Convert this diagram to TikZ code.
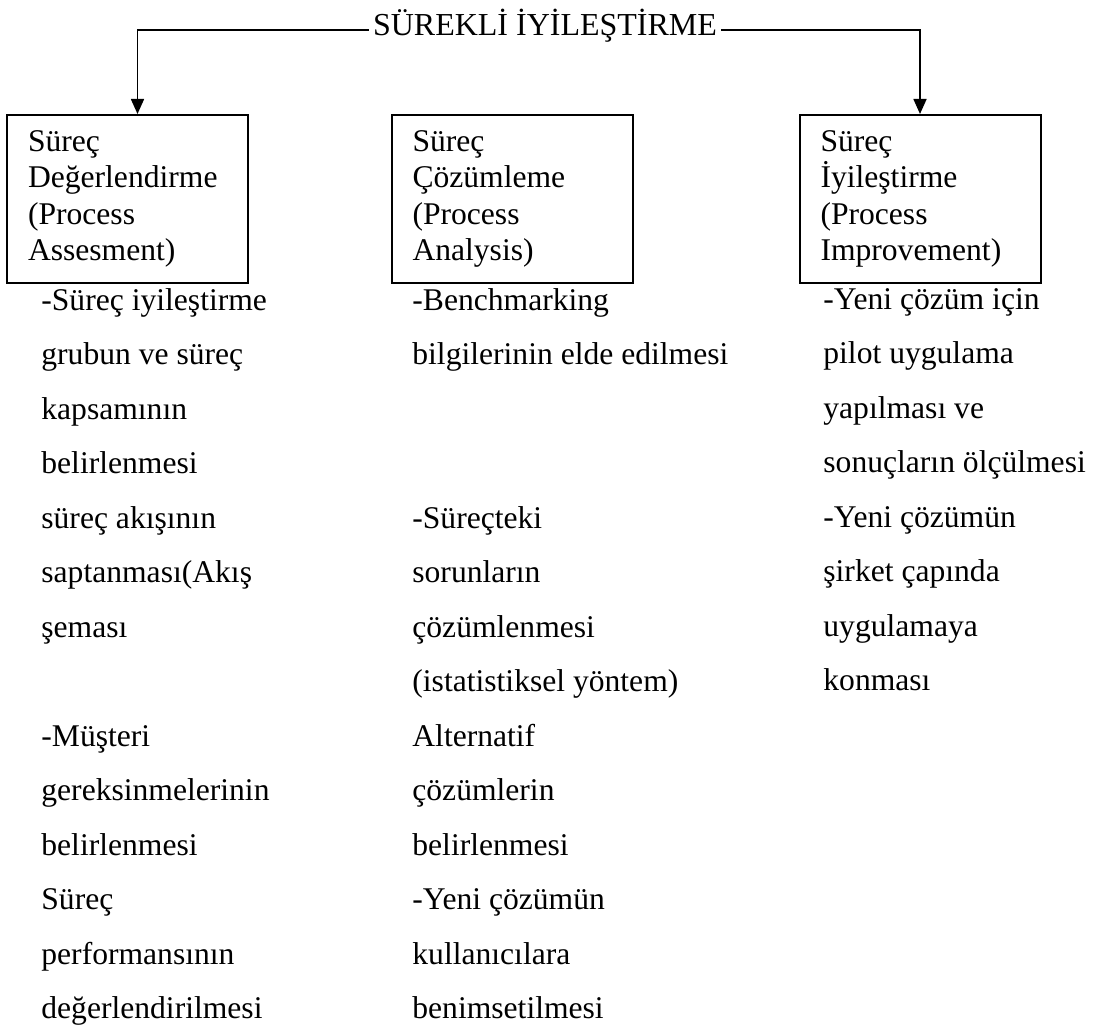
\documentclass[tikz,border=0pt]{standalone}
\usepackage{fontspec}
\setmainfont{Liberation Serif}
\usetikzlibrary{arrows.meta}

\begin{document}
\begin{tikzpicture}[x=0.5pt,y=-0.5pt,
    phase/.style={draw,line width=1pt,text width=99.5pt,inner xsep=10.5pt,
      minimum height=84pt,align=left,font=\fontsize{15.8}{18.15}\selectfont},
    steps/.style={anchor=north west,inner sep=0pt,align=left,
      font=\fontsize{15.8}{27.25}\selectfont},
    link/.style={line width=0.8pt,-{Triangle[length=7.5pt,width=6.5pt]}}]
  \useasboundingbox (0,0) rectangle (1108,1036);

  \node[anchor=base,inner xsep=2pt,font=\fontsize{16}{18}\selectfont] (title) at (545,36) {SÜREKLİ İYİLEŞTİRME};

  \node[phase] (assess) at (127.5,199) {Süreç\\Değerlendirme\\(Process\\Assesment)};
  \node[phase] (analysis) at (512,199) {Süreç\\Çözümleme\\(Process\\Analysis)};
  \node[phase] (improve) at (920,199) {Süreç\\İyileştirme\\(Process\\Improvement)};

  \draw[link] ([yshift=3pt]title.base west) -| ([xshift=5pt]assess.north);
  \draw[link] ([yshift=3pt]title.base east) -| (improve.north);

  % what is done in each phase
  \node[steps] (assesssteps) at (41,288) {-Süreç iyileştirme\\grubun ve süreç\\kapsamının\\belirlenmesi\\süreç akışının\\saptanması(Akış\\şeması\\\mbox{}\\-Müşteri\\gereksinmelerinin\\belirlenmesi\\Süreç\\performansının\\değerlendirilmesi};
  \node[steps] (analysissteps) at (412,288) {-Benchmarking\\bilgilerinin elde edilmesi\\\mbox{}\\\mbox{}\\-Süreçteki\\sorunların\\çözümlenmesi\\(istatistiksel yöntem)\\Alternatif\\çözümlerin\\belirlenmesi\\-Yeni çözümün\\kullanıcılara\\benimsetilmesi};
  \node[steps] (improvesteps) at (823,288) {-Yeni çözüm için\\pilot uygulama\\yapılması ve\\sonuçların ölçülmesi\\-Yeni çözümün\\şirket çapında\\uygulamaya\\konması};
\end{tikzpicture}
\end{document}
